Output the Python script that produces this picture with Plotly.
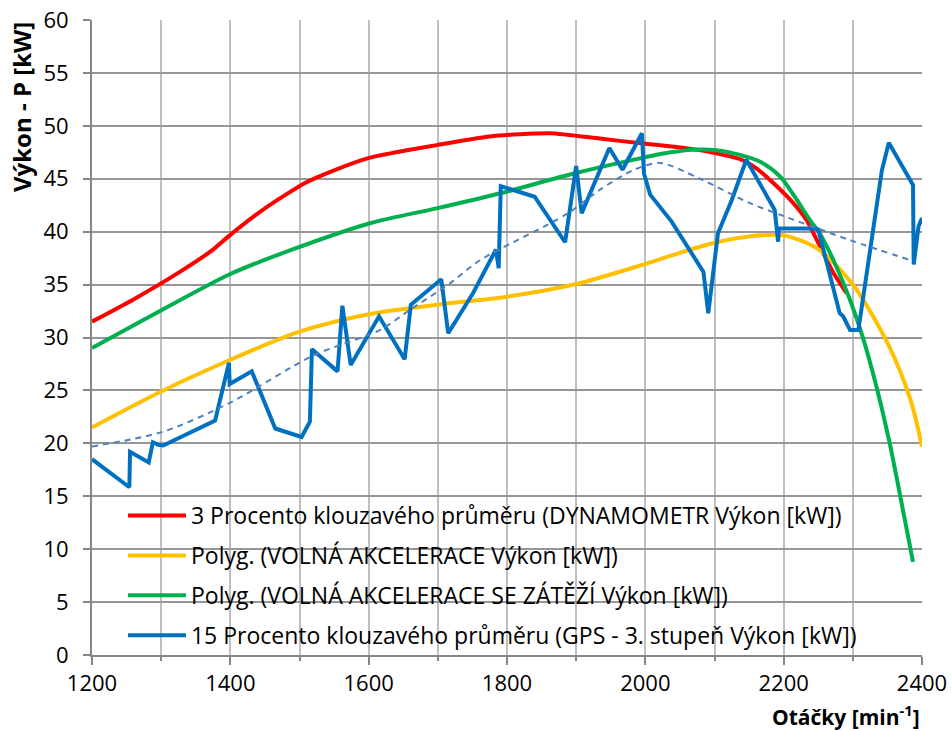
import plotly.graph_objects as go

# ---- data ----
red_rpm = [1200, 1260, 1327, 1375, 1400, 1450, 1508, 1550, 1602, 1700, 1775, 1862, 1934, 2000, 2038, 2069, 2103, 2137, 2160, 2185, 2214, 2233, 2248, 2257, 2272, 2291]
red_p = [31.5, 33.6, 36.2, 38.3, 39.7, 42.2, 44.6, 45.8, 47.0, 48.2, 49.0, 49.3, 48.8, 48.3, 48.05, 47.8, 47.4, 46.85, 46.0, 44.6, 42.7, 41.1, 39.2, 38.0, 36.1, 34.2]

yel_rpm = [1200, 1300, 1400, 1500, 1600, 1700, 1800, 1900, 2000, 2050, 2100, 2150, 2200, 2250, 2300, 2350, 2383, 2400]
yel_p = [21.5, 24.9, 27.9, 30.55, 32.2, 33.1, 33.85, 35.05, 36.95, 38.0, 38.95, 39.55, 39.65, 38.35, 35.0, 29.5, 24.2, 19.7]

grn_rpm = [1200, 1301, 1400, 1489, 1602, 1698, 1795, 1891, 1987, 2036, 2069, 2103, 2137, 2166, 2195, 2216, 2238, 2252, 2272, 2296, 2315, 2334, 2353, 2368, 2387]
grn_p = [29.0, 32.6, 36.0, 38.3, 40.8, 42.2, 43.7, 45.4, 46.85, 47.5, 47.75, 47.7, 47.25, 46.6, 45.2, 43.3, 41.1, 39.85, 37.3, 33.55, 29.9, 25.4, 20.1, 15.2, 8.8]

blue_rpm = [1200, 1254, 1255, 1282, 1288, 1296, 1303, 1378, 1398, 1399, 1431, 1465, 1503, 1515, 1518, 1555, 1562, 1574, 1615, 1652, 1661, 1705, 1715, 1751, 1784, 1788, 1791, 1840, 1884, 1900, 1908, 1948, 1967, 1995, 1998, 2007, 2038, 2084, 2091, 2105, 2125, 2146, 2187, 2192, 2193, 2199, 2245, 2250, 2281, 2286, 2296, 2308, 2342, 2352, 2387, 2388, 2395, 2400]
blue_p = [18.5, 15.85, 19.2, 18.2, 20.1, 19.85, 19.8, 22.15, 27.6, 25.6, 26.8, 21.4, 20.6, 22.05, 28.9, 26.8, 33.0, 27.4, 32.0, 27.95, 33.1, 35.5, 30.4, 34.2, 38.3, 36.55, 44.3, 43.3, 39.0, 46.2, 41.75, 47.9, 45.85, 49.3, 45.5, 43.5, 40.95, 36.2, 32.3, 39.85, 43.0, 46.8, 42.05, 39.05, 40.3, 40.3, 40.3, 40.2, 32.3, 32.0, 30.7, 30.7, 45.8, 48.4, 44.4, 36.9, 40.5, 41.3]

trend_rpm = [1200, 1303, 1400, 1520, 1616, 1656, 1717, 1761, 1886, 1934, 1982, 2021, 2079, 2151, 2199, 2296, 2388]
trend_p = [19.7, 21.1, 23.85, 28.3, 30.7, 32.45, 35.1, 37.3, 41.65, 43.95, 45.8, 46.5, 45.0, 42.7, 41.5, 39.2, 37.2]

names = [
    "3 Procento klouzavého průměru (DYNAMOMETR Výkon [kW])",
    "Polyg. (VOLNÁ AKCELERACE Výkon [kW])",
    "Polyg. (VOLNÁ AKCELERACE SE ZÁTĚŽÍ Výkon [kW])",
    "15 Procento klouzavého průměru (GPS - 3. stupeň Výkon [kW])",
]

FONT = "Open Sans"

fig = go.Figure()
fig.add_trace(go.Scatter(x=red_rpm, y=red_p, mode="lines", name=names[0], legendgroup="a",
                         line=dict(color="#FF0000", width=4, shape="spline", smoothing=0.6)))
fig.add_trace(go.Scatter(x=yel_rpm, y=yel_p, mode="lines", name=names[1], legendgroup="b",
                         line=dict(color="#FFC000", width=4, shape="spline", smoothing=0.8)))
fig.add_trace(go.Scatter(x=grn_rpm, y=grn_p, mode="lines", name=names[2], legendgroup="c",
                         line=dict(color="#00B050", width=4, shape="spline", smoothing=0.8)))
fig.add_trace(go.Scatter(x=blue_rpm, y=blue_p, mode="lines", name=names[3], legendgroup="d",
                         line=dict(color="#0070C0", width=4)))
fig.add_trace(go.Scatter(x=trend_rpm, y=trend_p, mode="lines", showlegend=False,
                         line=dict(color="#4F81BD", width=2, dash="6px,5px", shape="spline", smoothing=0.8)))

# white legend panel covering the gridlines (as in the reference)
fig.add_shape(type="rect", xref="paper", yref="paper", x0=0.0157, x1=0.960, y0=0.008, y1=0.2472,
              fillcolor="white", line=dict(width=0), layer="between")

fig.update_layout(
    width=952, height=731,
    margin=dict(l=92, r=30, t=20, b=76, autoexpand=False),
    paper_bgcolor="white", plot_bgcolor="white",
    font=dict(family=FONT, size=22, color="black"),
    legend=dict(x=0.0373, y=0.2535, xanchor="left", yanchor="top",
                bgcolor="rgba(0,0,0,0)", borderwidth=0,
                font=dict(family=FONT, size=23),
                tracegroupgap=7, itemwidth=58, traceorder="grouped"),
    showlegend=True,
)

fig.update_xaxes(
    range=[1200, 2400], tick0=1200, dtick=200, automargin=False,
    showgrid=True, gridcolor="#BFBFBF", gridwidth=2,
    showline=True, linecolor="#868686", linewidth=2,
    ticks="outside", ticklen=8, tickcolor="#868686", tickwidth=2,
    minor=dict(dtick=100, tick0=1200, showgrid=True, gridcolor="#BFBFBF", gridwidth=2,
               ticks="outside", ticklen=4, tickcolor="#868686", tickwidth=2),
    tickfont=dict(family=FONT, size=22),
    zeroline=False,
)
fig.update_yaxes(
    range=[0, 60], dtick=5, automargin=False,
    showgrid=True, gridcolor="#969696", gridwidth=2,
    showline=True, linecolor="#868686", linewidth=2,
    ticks="outside", ticklen=7, tickcolor="#868686", tickwidth=2,
    ticklabelstandoff=10,
    tickfont=dict(family=FONT, size=22),
    zeroline=False,
)

fig.add_annotation(text="<b>Otáčky [min<sup>-1</sup>]</b>", xref="paper", yref="paper",
                   x=1.0, y=-0.0945, xanchor="right", yanchor="middle", showarrow=False,
                   font=dict(family=FONT, size=21))
fig.add_annotation(text="<b>Výkon - P [kW]</b>", xref="paper", yref="paper",
                   x=-0.0843, y=0.863, xanchor="center", yanchor="middle", textangle=-90,
                   showarrow=False, font=dict(family=FONT, size=24))

fig.write_html("out.html")
